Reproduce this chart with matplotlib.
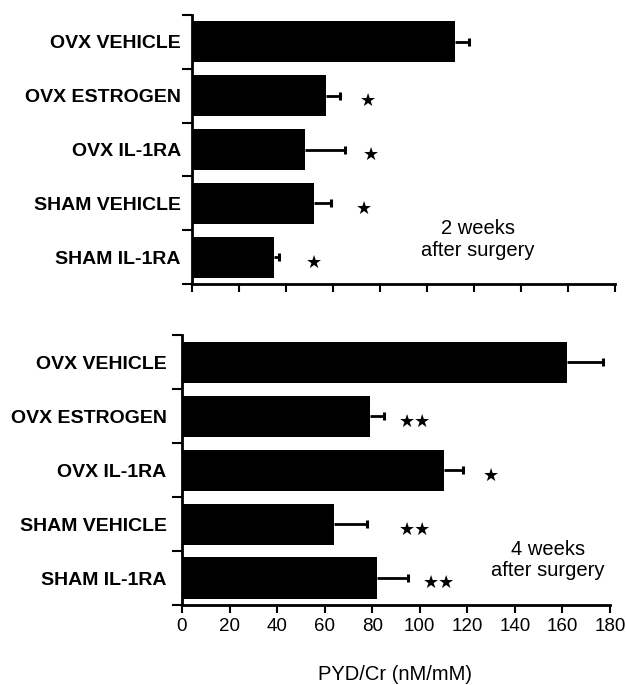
import numpy as np
import matplotlib.pyplot as plt

plt.rcParams['font.family'] = ['Liberation Sans', 'DejaVu Sans']

# --- dados ---
grupos = ['OVX VEHICLE', 'OVX ESTROGEN', 'OVX IL-1RA', 'SHAM VEHICLE', 'SHAM IL-1RA']

media_2sem = [112, 57, 48, 52, 35]
erro_2sem = [6, 6, 17, 7, 2]
estrela_2sem = ['', '★', '★', '★', '★']
pos_estrela_2sem = [0, 75, 76, 73, 52]

media_4sem = [162, 79, 110, 64, 82]
erro_4sem = [15, 6, 8, 14, 13]
estrela_4sem = ['', '★★', '★', '★★', '★★']
pos_estrela_4sem = [0, 98, 130, 98, 108]

xticks = [0, 20, 40, 60, 80, 100, 120, 140, 160, 180]


def painel(ax, medias, erros, estrelas, pos_estrelas, texto, pos_texto, pad_label):
    y = np.arange(len(grupos))
    medias = np.array(medias, dtype=float)
    fim = medias + np.array(erros, dtype=float)
    ax.barh(y, medias, height=0.76, color='black')
    # barra de erro só para o lado direito
    ax.hlines(y, medias, fim, color='black', lw=2)
    ax.plot(fim, y, ls='none', marker='|', ms=6, mew=2.2, color='black')
    for yi, s, px in zip(y, estrelas, pos_estrelas):
        if s:
            ax.text(px, yi + 0.1, s, ha='center', va='center', fontsize=13,
                    family='DejaVu Sans')
    ax.set_xlim(0, 180)
    ax.set_ylim(len(grupos) - 0.5, -0.5)
    ax.set_yticks(y)
    ax.set_yticklabels(grupos, fontsize=14, fontweight='bold')
    ax.set_yticks(np.arange(len(grupos) + 1) - 0.5, minor=True)
    ax.tick_params(axis='y', which='major', length=0, pad=pad_label)
    ax.tick_params(axis='y', which='minor', length=7, width=1.5)
    ax.set_xticks(xticks)
    ax.tick_params(axis='x', length=6, width=1.5)
    for lado in ['top', 'right']:
        ax.spines[lado].set_visible(False)
    for lado in ['left', 'bottom']:
        ax.spines[lado].set_linewidth(2)
    ax.text(pos_texto[0], pos_texto[1], texto, transform=ax.transAxes,
            ha='center', va='center', fontsize=14.5, linespacing=1.15)


fig = plt.figure(figsize=(6.26, 6.85), dpi=100)
ax1 = fig.add_axes([0.3067, 0.5854, 0.6757, 0.3927])
ax2 = fig.add_axes([0.2907, 0.1168, 0.6837, 0.394])

painel(ax1, media_2sem, erro_2sem, estrela_2sem, pos_estrela_2sem,
       '2 weeks\nafter surgery', (0.676, 0.165), 8)
ax1.set_xticklabels([])

painel(ax2, media_4sem, erro_4sem, estrela_4sem, pos_estrela_4sem,
       '4 weeks\nafter surgery', (0.855, 0.168), 11)
ax2.set_xticklabels([str(v) for v in xticks], fontsize=13.5)

fig.text(0.631, 0.015, 'PYD/Cr (nM/mM)', ha='center', va='center', fontsize=14.5)

fig.savefig('out.png', dpi=100)
